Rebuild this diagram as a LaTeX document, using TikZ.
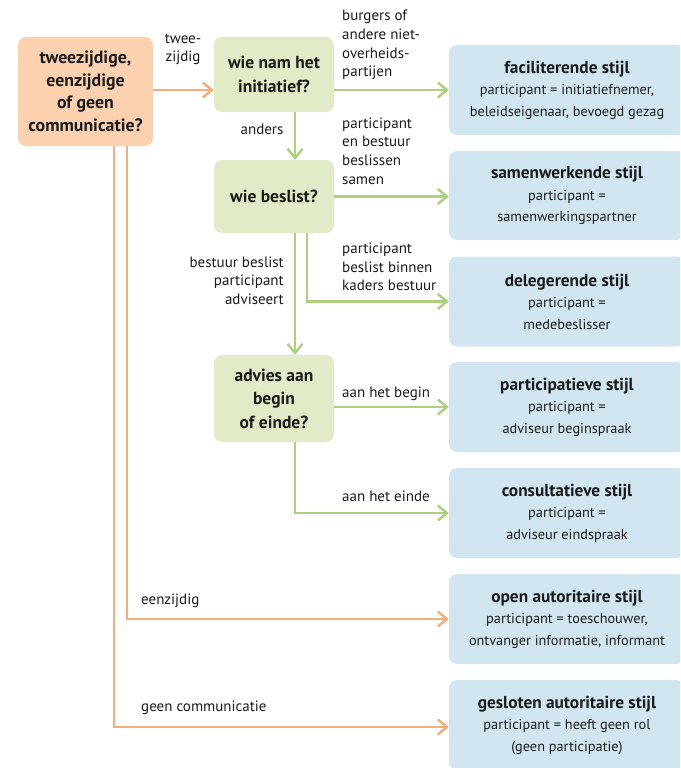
\documentclass[tikz,border=0pt]{standalone}
\usepackage{fontspec}
\setmainfont{PT Sans}
\usetikzlibrary{arrows.meta}
\definecolor{ink}{HTML}{1A1A1A}
\definecolor{orgfill}{HTML}{FCD1AF}
\definecolor{orgline}{HTML}{F5AD7A}
\definecolor{grnfill}{HTML}{E1EBC8}
\definecolor{grnline}{HTML}{ADD07E}
\definecolor{blufill}{HTML}{D2E6F2}
\begin{document}
\begin{tikzpicture}[x=1pt,y=-1pt,
  every node/.style={text=ink, inner sep=0pt},
  orgbox/.style={fill=orgfill, rounded corners=8, align=center,
    minimum width=135, minimum height=109,
    font=\bfseries\fontsize{17.8}{22.5}\selectfont},
  question/.style={fill=grnfill, rounded corners=8, align=center,
    minimum width=120, font=\bfseries\fontsize{17.5}{23.5}\selectfont},
  stylebox/.style={fill=blufill, rounded corners=8, align=center,
    minimum width=236, minimum height=90,
    font=\fontsize{14.3}{21.5}\selectfont},
  lbl/.style={font=\fontsize{15}{18.7}\selectfont},
  oarrow/.style={draw=orgline, line width=2.5, line join=miter,
    -{Straight Barb[length=9, width=15]}},
  garrow/.style={draw=grnline, line width=2.5, line join=miter,
    -{Straight Barb[length=9, width=15]}}]
\clip (0,0) rectangle (680,768);
\newcommand{\ttl}[1]{{\bfseries\fontsize{17.3}{21.5}\selectfont #1}}

% decision boxes
\node[orgbox] (org) at (85.5,91.5) {tweezijdige,\\eenzijdige\\of geen\\communicatie?};
\node[question, minimum height=75] (wn) at (274,74.5) {wie nam het\\initiatief?};
\node[question, minimum height=73] (wb) at (274,196.5) {wie beslist?};
\node[question, minimum height=87] (adv) at (274,398.5) {advies aan\\begin\\of einde?};

% participation styles
\node[stylebox] (fac) at (567,90) {\ttl{faciliterende stijl}\\participant = initiatiefnemer,\\beleidseigenaar, bevoegd gezag};
\node[stylebox, minimum height=89] (sam) at (567,195.5) {\ttl{samenwerkende stijl}\\participant =\\samenwerkingspartner};
\node[stylebox] (del) at (567,301.5) {\ttl{delegerende stijl}\\participant =\\medebeslisser};
\node[stylebox] (par) at (567,407) {\ttl{participatieve stijl}\\participant =\\adviseur beginspraak};
\node[stylebox] (con) at (567,513) {\ttl{consultatieve stijl}\\participant =\\adviseur eindspraak};
\node[stylebox] (ope) at (567,619) {\ttl{open autoritaire stijl}\\participant = toeschouwer,\\ontvanger informatie, informant};
\node[stylebox] (ges) at (567,725) {\ttl{gesloten autoritaire stijl}\\participant = heeft geen rol\\(geen participatie)};

% connectors
\draw[oarrow] (org.east |- fac.west) -- (wn.west |- fac.west);
\draw[oarrow] ([xshift=41.5]org.south) |- (ope.west);
\draw[oarrow] ([xshift=28.5]org.south) |- ([yshift=-2]ges.west);
\draw[garrow] (wn.east |- fac.west) -- (fac.west);
\draw[garrow] ([xshift=21]wn.south) -- ([xshift=21]wb.north);
\draw[garrow] (wb.east) -- (wb.east -| sam.west);
\draw[garrow] ([xshift=33]wb.south) |- (del.west);
\draw[garrow] ([xshift=21]wb.south) -- ([xshift=21]adv.north);
\draw[garrow] (adv.east |- par.west) -- (par.west);
\draw[garrow] ([xshift=21]adv.south) |- (con.west);

% connector labels
\node[lbl, align=center] (l1) at (183,49.5) {twee-\\zijdig};
\node[lbl] (l2) at (262,129) {anders};
\node[lbl, align=left, anchor=west] (l3) at (342,45) {burgers of\\andere niet-\\overheids-\\partijen};
\node[lbl, align=left, anchor=west] (l4) at (342,151) {participant\\en bestuur\\beslissen\\samen};
\node[lbl, align=left, anchor=west] (l5) at (342,267) {participant\\beslist binnen\\kaders bestuur};
\node[lbl, align=right, anchor=east] (l6) at (284,280.5) {bestuur beslist\\participant\\adviseert};
\node[lbl, anchor=west] (l7) at (342,394) {aan het begin};
\node[lbl, anchor=west] (l8) at (342,496) {aan het einde};
\node[lbl, anchor=west] (l9) at (141,601) {eenzijdig};
\node[lbl, anchor=west] (l10) at (141,708) {geen communicatie};
\end{tikzpicture}
\end{document}
